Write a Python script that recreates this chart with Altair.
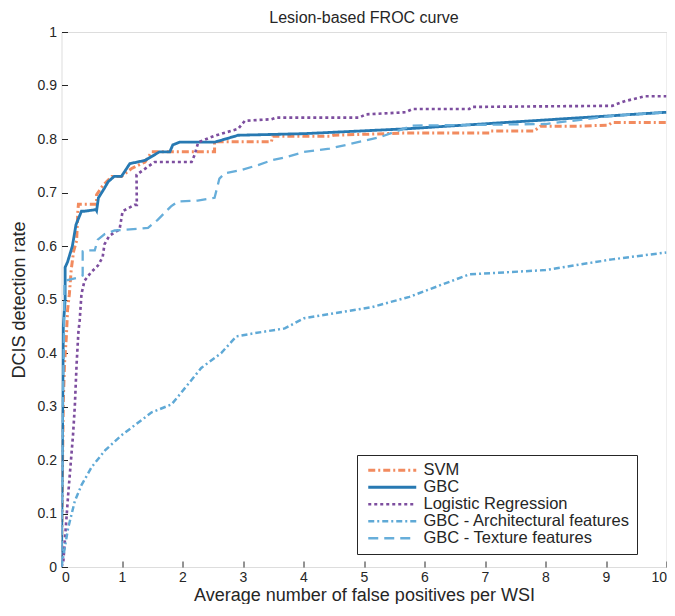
import altair as alt
import pandas as pd

series_names = ["SVM", "GBC", "Logistic Regression",
                "GBC - Architectural features", "GBC - Texture features"]
colors = ["#F28B5F", "#2779B2", "#7D4E9F", "#5FA9D6", "#67AEDA"]
dashes = [[7, 3, 2, 3], [1, 0], [3, 3], [6, 3, 2, 3], [10, 6]]
widths = [3, 2.3, 3.5, 2.2, 3]

svm_x = [0, 0.01, 0.02, 0.03, 0.05, 0.08, 0.10, 0.13, 0.16, 0.20, 0.25, 0.27, 0.28, 0.58, 0.58,
         0.69, 0.83, 0.99, 1.16, 1.38, 1.49, 2.53, 2.53, 3.47, 3.49, 4.43, 4.50, 5.64, 7.07, 7.10,
         7.81, 7.92, 8.55, 9.04, 9.10, 10.0]
svm_y = [0, 0.12, 0.22, 0.31, 0.38, 0.43, 0.48, 0.51, 0.555, 0.59, 0.61, 0.665, 0.678, 0.678, 0.696,
         0.714, 0.73, 0.73, 0.745, 0.757, 0.776, 0.776, 0.795, 0.795, 0.805, 0.805, 0.807, 0.811, 0.811, 0.815,
         0.815, 0.824, 0.824, 0.826, 0.831, 0.831]

gbc_x = [0, 0.02, 0.03, 0.06, 0.06, 0.10, 0.18, 0.24, 0.33, 0.38, 0.57, 0.58, 0.61, 0.71, 0.77,
         0.87, 0.99, 1.13, 1.38, 1.62, 1.79, 1.84, 1.95, 2.53, 2.92, 4.01, 5.69, 10.0]
gbc_y = [0, 0.30, 0.45, 0.50, 0.56, 0.57, 0.60, 0.64, 0.665, 0.665, 0.668, 0.666, 0.69, 0.708, 0.72,
         0.73, 0.73, 0.754, 0.76, 0.776, 0.776, 0.789, 0.794, 0.794, 0.807, 0.81, 0.819, 0.85]

lr_x = [0, 0.03, 0.11, 0.19, 0.22, 0.25, 0.28, 0.30, 0.33, 0.38, 0.49, 0.60, 0.68, 0.71, 0.79,
        0.96, 1.01, 1.21, 1.245, 1.24, 1.35, 1.54, 2.15, 2.20, 2.26, 2.53, 2.92, 3.03, 3.47, 3.55,
        4.92, 5.03, 5.69, 5.80, 6.74, 6.79, 9.10, 9.32, 9.65, 10.0]
lr_y = [0, 0.01, 0.135, 0.246, 0.30, 0.38, 0.44, 0.46, 0.51, 0.535, 0.551, 0.563, 0.579, 0.603, 0.619,
        0.631, 0.665, 0.677, 0.677, 0.733, 0.742, 0.757, 0.757, 0.77, 0.794, 0.806, 0.819, 0.834, 0.837, 0.84,
        0.84, 0.846, 0.85, 0.856, 0.856, 0.86, 0.862, 0.871, 0.88, 0.88]

arch_x = [0, 0.11, 0.22, 0.33, 0.50, 0.72, 0.99, 1.49, 1.82, 1.98, 2.31, 2.64, 2.89, 3.19, 3.69,
          4.01, 5.14, 5.75, 6.74, 8.0, 9.10, 10.0]
arch_y = [0.0, 0.073, 0.123, 0.153, 0.187, 0.218, 0.246, 0.289, 0.304, 0.326, 0.372, 0.40, 0.431, 0.437, 0.446,
          0.465, 0.486, 0.505, 0.547, 0.555, 0.575, 0.588]

tex_x = [0, 0.02, 0.04, 0.05, 0.27, 0.35, 0.35, 0.44, 0.55, 0.60, 0.71, 0.88, 1.26, 1.43, 1.59,
         1.81, 1.92, 2.25, 2.53, 2.61, 2.70, 2.97, 3.24, 3.47, 3.74, 4.01, 4.43, 5.25, 5.80, 8.0,
         9.09, 10.0]
tex_y = [0, 0.30, 0.43, 0.535, 0.541, 0.545, 0.59, 0.592, 0.592, 0.612, 0.622, 0.629, 0.632, 0.634, 0.649,
         0.674, 0.683, 0.685, 0.69, 0.726, 0.736, 0.742, 0.751, 0.76, 0.767, 0.776, 0.782, 0.803, 0.825, 0.828,
         0.843, 0.85]

xs_all = [svm_x, gbc_x, lr_x, arch_x, tex_x]
ys_all = [svm_y, gbc_y, lr_y, arch_y, tex_y]

rows = []
for name, xs, ys in zip(series_names, xs_all, ys_all):
    for i, (a, b) in enumerate(zip(xs, ys)):
        rows.append({"series": name, "fp": a, "rate": b, "idx": i})
df = pd.DataFrame(rows)

FONT = "Liberation Sans"
TXT = "#262626"

leg = dict(orient="none", legendX=295.5, legendY=423, title=None)

chart = alt.Chart(df).mark_line(clip=True, strokeCap="butt", strokeJoin="miter").encode(
    x=alt.X("fp:Q", scale=alt.Scale(domain=[0, 10], nice=False),
            axis=alt.Axis(title="Average number of false positives per WSI",
                          values=list(range(0, 11)), offset=-6, tickSize=6,
                          domain=False, grid=False, labelPadding=3, titlePadding=2,
                          labelFontSize=14, titleFontSize=18, labelColor=TXT,
                          titleColor=TXT, tickColor=TXT, titleFontWeight="normal",
                          labelFont=FONT, titleFont=FONT)),
    y=alt.Y("rate:Q", scale=alt.Scale(domain=[0, 1], nice=False),
            axis=alt.Axis(title="DCIS detection rate",
                          values=[0, 0.1, 0.2, 0.3, 0.4, 0.5, 0.6, 0.7, 0.8, 0.9, 1],
                          format="~g", offset=-6, tickSize=6,
                          domain=False, grid=False, labelPadding=5, titlePadding=9,
                          labelFontSize=14, titleFontSize=18, labelColor=TXT,
                          titleColor=TXT, tickColor=TXT, titleFontWeight="normal",
                          labelFont=FONT, titleFont=FONT)),
    color=alt.Color("series:N", scale=alt.Scale(domain=series_names, range=colors),
                    legend=alt.Legend(strokeColor=TXT, fillColor="white", padding=7,
                                      symbolType="M-4,0H4", symbolSize=144,
                                      symbolOffset=20,
                                      labelFontSize=16.5, labelFont=FONT, labelColor=TXT,
                                      rowPadding=0, labelOffset=23, labelLimit=400, **leg)),
    strokeDash=alt.StrokeDash("series:N", scale=alt.Scale(domain=series_names, range=dashes),
                              legend=alt.Legend(**leg)),
    strokeWidth=alt.StrokeWidth("series:N", scale=alt.Scale(domain=series_names, range=widths),
                                legend=alt.Legend(**leg)),
    order=alt.Order("idx:Q"),
).properties(
    width=605, height=535,
    title=alt.Title("Lesion-based FROC curve", fontSize=16, fontWeight="normal",
                    font=FONT, color=TXT, offset=-1),
    autosize=alt.AutoSizeParams(type="none"),
    padding={"left": 53.5, "top": 24, "right": 0.5, "bottom": 37},
).configure_view(stroke="#404040", strokeWidth=1).configure(background="white")

chart.save("out.html", embed_options={"renderer": "svg", "actions": False})
